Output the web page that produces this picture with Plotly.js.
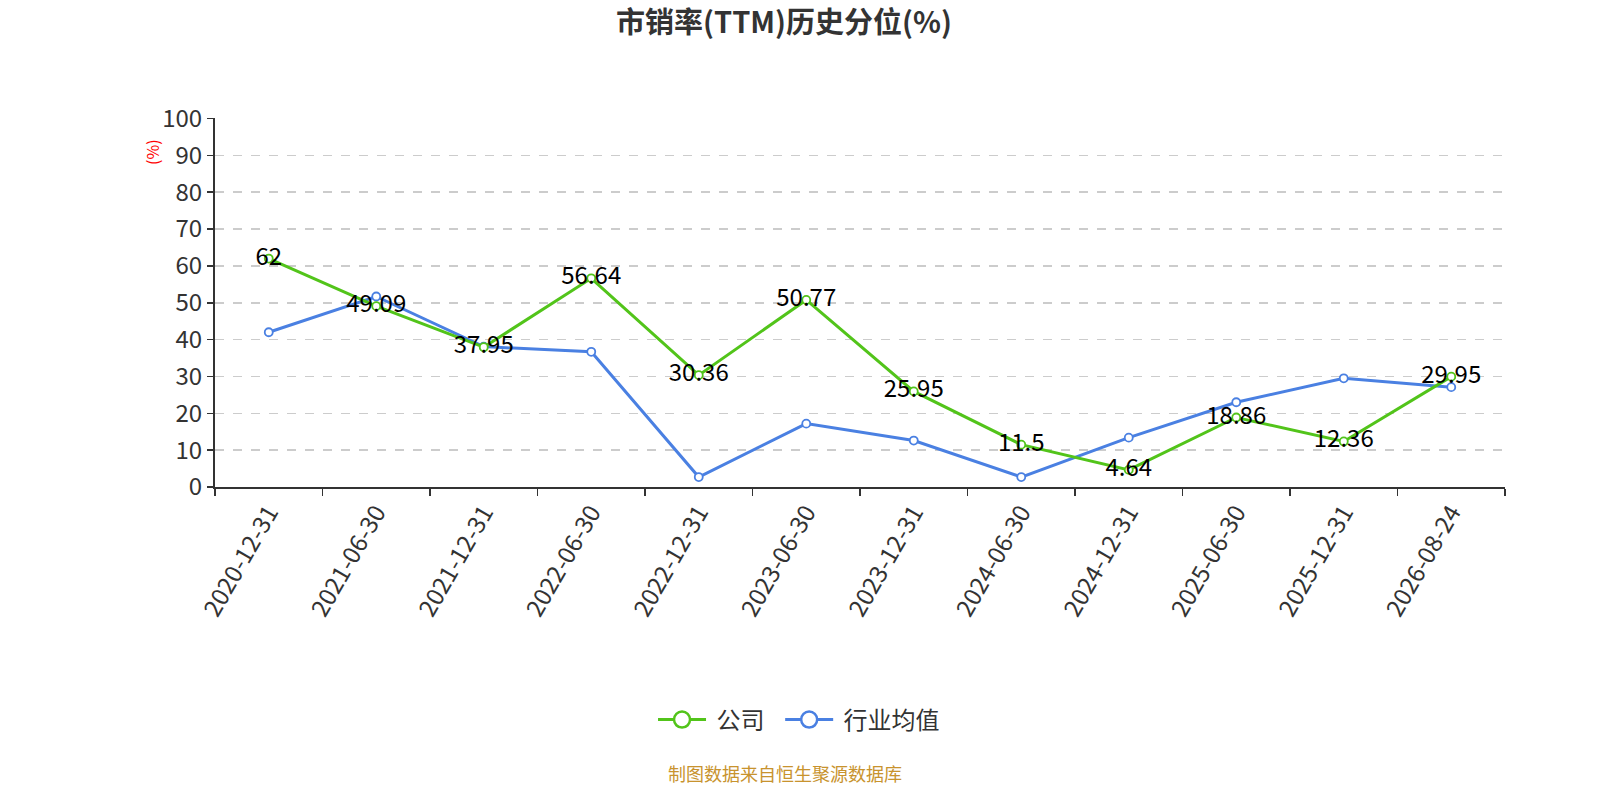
<!DOCTYPE html>
<html>
<head>
<meta charset="utf-8">
<script src="https://cdn.plot.ly/plotly-3.0.1.min.js"></script>
<style>
  html, body { margin: 0; padding: 0; background: #fff; }
  #chart { width: 1600px; height: 800px; }
</style>
</head>
<body>
<div id="chart"></div>
<script>
// category dates on the x axis
const dates = ['2020-12-31', '2021-06-30', '2021-12-31', '2022-06-30', '2022-12-31', '2023-06-30',
               '2023-12-31', '2024-06-30', '2024-12-31', '2025-06-30', '2025-12-31', '2026-08-24'];

// company percentile (labelled)
const company = [62, 49.09, 37.95, 56.64, 30.36, 50.77, 25.95, 11.5, 4.64, 18.86, 12.36, 29.95];

// industry average percentile
const industry = [42.0, 51.7, 38.1, 36.7, 2.7, 17.2, 12.6, 2.7, 13.4, 23.0, 29.5, 27.1];

const seriesNames = ['公司', '行业均值'];
const yTicks = [0, 10, 20, 30, 40, 50, 60, 70, 80, 90, 100];

const green = '#52c41a';
const blue = '#4a80e2';
const font = '"Noto Sans CJK SC", "Noto Sans", sans-serif';
const nb = '\u00a0';

function lineTrace(y, color, withText) {
    const t = {
        x: dates,
        y: y,
        type: 'scatter',
        mode: withText ? 'lines+markers+text' : 'lines+markers',
        showlegend: false,
        line: { color: color, width: 3 },
        marker: { symbol: 'circle', size: 8, color: '#fff', line: { color: color, width: 1.8 } },
        cliponaxis: false
    };
    if (withText) {
        t.text = y.map(String);
        t.textposition = 'middle center';
        t.textfont = { family: font, size: 24, color: '#000' };
    }
    return t;
}

// legend-only entries, so the legend circles can be bigger than the plotted ones
function legendTrace(name, color) {
    return {
        x: [null], y: [null],
        type: 'scatter',
        mode: 'lines+markers',
        name: nb + name + nb + nb,
        line: { color: color, width: 3 },
        marker: { symbol: 'circle', size: 16, color: '#fff', line: { color: color, width: 2.5 } }
    };
}

const traces = [
    lineTrace(industry, blue, false),
    lineTrace(company, green, true),
    legendTrace(seriesNames[0], green),
    legendTrace(seriesNames[1], blue)
];

const layout = {
    width: 1600,
    height: 800,
    paper_bgcolor: '#fff',
    plot_bgcolor: '#fff',
    margin: { l: 215, r: 95, t: 118, b: 313 },
    title: {
        text: '<b>市销率(TTM)历史分位(%)</b>',
        x: 0.49, xref: 'container', xanchor: 'center',
        y: 1 - 23 / 800, yref: 'container', yanchor: 'middle',
        font: { family: font, size: 29, color: '#333' }
    },
    xaxis: {
        type: 'category',
        range: [-0.5, dates.length - 0.5],
        tickson: 'boundaries',
        ticks: 'outside',
        ticklen: 7,
        tickwidth: 1.5,
        tickcolor: '#333',
        tickangle: -60,
        tickfont: { family: font, size: 24, color: '#333' },
        showline: true,
        linecolor: '#333',
        linewidth: 2,
        showgrid: false,
        zeroline: false,
        fixedrange: true
    },
    yaxis: {
        range: [0, 100.15],
        tickvals: yTicks,
        ticks: 'outside',
        ticklen: 6,
        tickwidth: 1.5,
        tickcolor: '#333',
        tickfont: { family: font, size: 24, color: '#333' },
        showline: true,
        linecolor: '#333',
        linewidth: 2,
        showgrid: true,
        gridcolor: '#cccccc',
        griddash: 'dash',
        gridwidth: 1.5,
        zeroline: false,
        fixedrange: true
    },
    showlegend: true,
    legend: {
        orientation: 'h',
        x: 0.457, xanchor: 'center',
        y: (487 - 720) / 369, yanchor: 'middle',
        font: { family: font, size: 24, color: '#333' },
        itemwidth: 48
    },
    annotations: [
        {
            text: '(%)',
            xref: 'paper', yref: 'paper',
            x: (152 - 215) / 1290, y: (487 - 152) / 369,
            xanchor: 'center', yanchor: 'middle',
            textangle: -90,
            showarrow: false,
            font: { family: font, size: 16, color: 'red' }
        },
        {
            text: '制图数据来自恒生聚源数据库',
            xref: 'paper', yref: 'paper',
            x: (785 - 215) / 1290, y: (487 - 773) / 369,
            xanchor: 'center', yanchor: 'middle',
            showarrow: false,
            font: { family: font, size: 18, color: '#c8932e' }
        }
    ],
    hovermode: false
};

Plotly.newPlot('chart', traces, layout, { displayModeBar: false, staticPlot: true });
</script>
</body>
</html>
